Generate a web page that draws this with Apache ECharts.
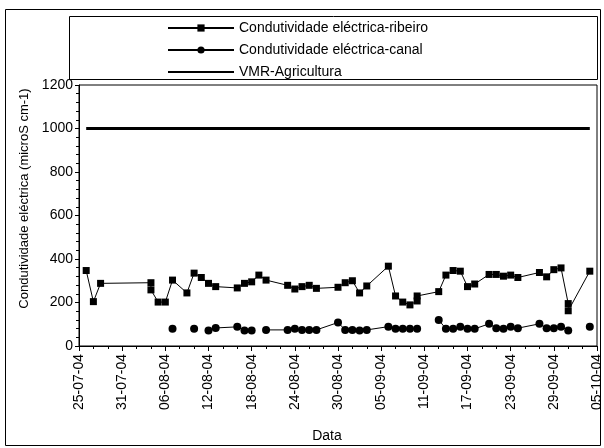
<!DOCTYPE html>
<html>
<head>
<meta charset="utf-8">
<script src="https://cdn.jsdelivr.net/npm/echarts@6/dist/echarts.min.js"></script>
<style>html,body{margin:0;padding:0;background:#fff;}#c{width:604px;height:448px;}</style>
</head>
<body>
<div id="c"></div>
<script>
// ---- data ----
const dates = ['2004-07-26','2004-07-27','2004-07-28','2004-08-04','2004-08-04','2004-08-05','2004-08-06','2004-08-07','2004-08-09','2004-08-10','2004-08-11','2004-08-12','2004-08-13','2004-08-16','2004-08-17','2004-08-18','2004-08-19','2004-08-20','2004-08-23','2004-08-24','2004-08-25','2004-08-26','2004-08-27','2004-08-30','2004-08-31','2004-09-01','2004-09-02','2004-09-03','2004-09-06','2004-09-07','2004-09-08','2004-09-09','2004-09-10','2004-09-10','2004-09-13','2004-09-14','2004-09-15','2004-09-16','2004-09-17','2004-09-18','2004-09-20','2004-09-21','2004-09-22','2004-09-23','2004-09-24','2004-09-27','2004-09-28','2004-09-29','2004-09-30','2004-10-01','2004-10-01','2004-10-04'];
const ribeiro = [347,204,288,291,258,202,202,303,244,335,315,288,273,267,288,295,326,303,279,262,273,279,265,270,291,300,244,276,367,230,202,189,207,230,250,326,347,344,273,285,329,329,321,326,315,338,318,351,359,195,162,344];
const canal = [null,null,null,null,null,null,null,79,null,79,null,71,83,88,71,71,null,74,74,79,74,74,74,108,74,74,71,74,89,79,79,79,79,null,120,79,79,89,79,79,102,82,79,89,82,102,82,82,89,71,null,89];
const vmrDates = ['2004-07-26','2004-10-04'];
const vmrValues = [1000,1000];
const xStartDate = '2004-07-25';
const xTickLabels = ['25-07-04','31-07-04','06-08-04','12-08-04','18-08-04','24-08-04','30-08-04','05-09-04','11-09-04','17-09-04','23-09-04','29-09-04','05-10-04'];
const yTicks = [0,200,400,600,800,1000,1200];
const seriesNames = ['Condutividade eléctrica-ribeiro','Condutividade eléctrica-canal','VMR-Agricultura'];

function dayIndex(s){
  const p = s.split('-').map(Number), q = xStartDate.split('-').map(Number);
  return Math.round((Date.UTC(p[0],p[1]-1,p[2]) - Date.UTC(q[0],q[1]-1,q[2]))/86400000);
}
const pairs = (ds, vs) => ds.map((d,i) => [dayIndex(d), vs[i] == null ? '-' : vs[i]]);

const chart = echarts.init(document.getElementById('c'), null, {renderer:'canvas'});
const FONT = 'Liberation Sans, Arial, sans-serif';
chart.setOption({
  animation:false,
  backgroundColor:'#fff',
  textStyle:{fontFamily:FONT, color:'#000'},
  graphic:[
    {type:'rect', shape:{x:5.5,y:9.5,width:595,height:436}, style:{fill:'none',stroke:'#000',lineWidth:1}, z:-1},
    {type:'rect', shape:{x:69.5,y:16.5,width:528,height:63}, style:{fill:'none',stroke:'#000',lineWidth:1}, z:-1}
  ],
  legend:{
    orient:'vertical', left:162, top:16, itemWidth:66, itemHeight:9, itemGap:8,
    textStyle:{fontFamily:FONT, fontSize:14, color:'#000'},
    data: seriesNames
  },
  grid:{left:79, right:7, top:85, bottom:99, show:true, borderColor:'#000', borderWidth:1},
  xAxis:{
    type:'value', min:0, max:(xTickLabels.length-1)*6, interval:6,
    name:'Data', nameLocation:'middle', nameGap:83,
    nameTextStyle:{fontFamily:FONT, fontSize:14, color:'#000', padding:[0,22,0,0]},
    axisLine:{lineStyle:{color:'#000'}},
    axisTick:{show:true, length:5, lineStyle:{color:'#000'}},
    minorTick:{show:true, splitNumber:3, length:3, lineStyle:{color:'#000'}},
    splitLine:{show:false},
    axisLabel:{rotate:90, fontFamily:FONT, fontSize:14, color:'#000', margin:8,
      formatter:v => xTickLabels[Math.round(v/6)] || ''}
  },
  yAxis:{
    type:'value', min:yTicks[0], max:yTicks[yTicks.length-1], interval:200,
    name:'Condutividade eléctrica (microS cm-1)', nameLocation:'middle', nameGap:42,
    nameTextStyle:{fontFamily:FONT, fontSize:13, color:'#000', padding:[0,0,0,34]},
    axisLine:{show:true, lineStyle:{color:'#000'}},
    axisTick:{show:true, length:4, lineStyle:{color:'#000'}},
    minorTick:{show:true, splitNumber:5, length:3, lineStyle:{color:'#000'}},
    splitLine:{show:false},
    axisLabel:{fontFamily:FONT, fontSize:14, color:'#000', margin:6,
      formatter:v => String(v)}
  },
  series:[
    {name:seriesNames[0], type:'line', data:pairs(dates, ribeiro), symbol:'rect', symbolSize:7,
     itemStyle:{color:'#000'}, lineStyle:{color:'#000', width:1}, connectNulls:false},
    {name:seriesNames[1], type:'line', data:pairs(dates, canal), symbol:'circle', symbolSize:8,
     itemStyle:{color:'#000'}, lineStyle:{color:'#000', width:1}, connectNulls:false},
    {name:seriesNames[2], type:'line', data:pairs(vmrDates, vmrValues), symbol:'none',
     itemStyle:{color:'rgba(0,0,0,0)', borderWidth:0}, lineStyle:{color:'#000', width:3}}
  ]
});
</script>
</body>
</html>
